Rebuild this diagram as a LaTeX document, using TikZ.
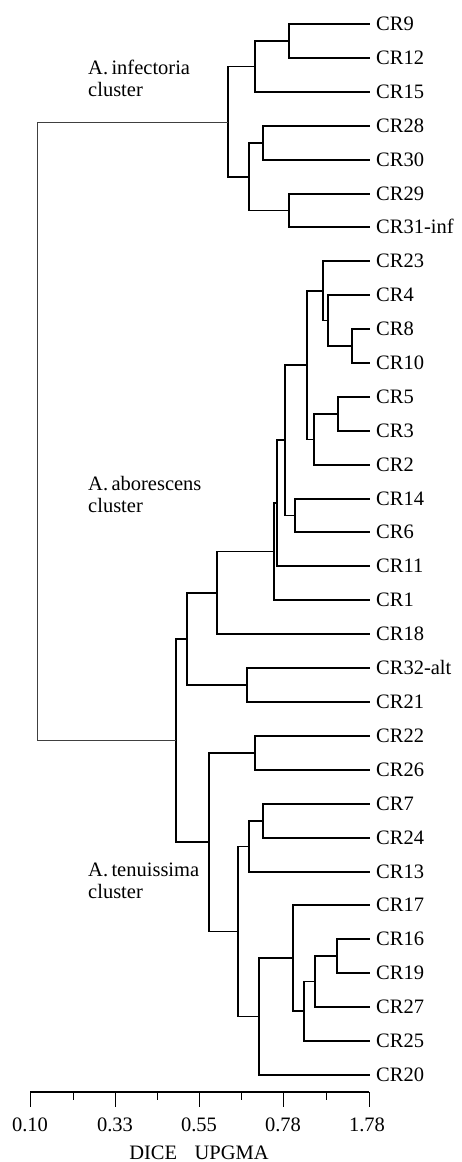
\documentclass[tikz,border=0pt]{standalone}
\usepackage{fontspec}
\setmainfont{Liberation Serif}
\begin{document}
\begin{tikzpicture}[x=1pt,y=-1pt,
  every node/.style={font=\fontsize{20.5}{22}\selectfont},
  leaf/.style={anchor=west,inner xsep=6pt,inner ysep=0pt,text height=12pt,text depth=0pt},
  branch/.style={line width=1.1pt},
  rootbranch/.style={line width=0.8pt,draw=black!75},
  clusterlabel/.style={anchor=base west,align=left,inner sep=0pt},
  ticklabel/.style={anchor=base,inner sep=0pt}]
\useasboundingbox (0,0) rectangle (461,1162);

% ---------- leaves ----------
\foreach \name/\lab/\y in {
  cr9/CR9/24, cr12/CR12/58, cr15/CR15/92, cr28/CR28/126, cr30/CR30/160,
  cr29/CR29/194, cr31/CR31-inf/227, cr23/CR23/261, cr4/CR4/295, cr8/CR8/329,
  cr10/CR10/363, cr5/CR5/397, cr3/CR3/431, cr2/CR2/465, cr14/CR14/499,
  cr6/CR6/532, cr11/CR11/566, cr1/CR1/600, cr18/CR18/634, cr32/CR32-alt/668,
  cr21/CR21/702, cr22/CR22/736, cr26/CR26/770, cr7/CR7/804, cr24/CR24/838,
  cr13/CR13/872, cr17/CR17/905, cr16/CR16/939, cr19/CR19/973, cr27/CR27/1007,
  cr25/CR25/1041, cr20/CR20/1075}
  \node[leaf] (\name) at (370,\y) {\lab};

% ---------- internal nodes ----------
% A. infectoria
\coordinate (i1) at (289,41);
\coordinate (i2) at (255,66.5);
\coordinate (i3) at (263,143);
\coordinate (i4) at (289,210.5);
\coordinate (i5) at (249,177);
\coordinate (i6) at (228,122);
% A. aborescens
\coordinate (a1) at (352,346);
\coordinate (a2) at (328,320.5);
\coordinate (a3) at (323,291);
\coordinate (a4) at (338,414);
\coordinate (a5) at (314,439.5);
\coordinate (a6) at (307,365);
\coordinate (a7) at (295,515.5);
\coordinate (a8) at (285,440);
\coordinate (a9) at (277,503);
\coordinate (a10) at (274,551.5);
\coordinate (a11) at (217,593);
\coordinate (a12) at (247,685);
\coordinate (a13) at (187,639);
% A. tenuissima
\coordinate (t1) at (255,753);
\coordinate (t2) at (263,821);
\coordinate (t3) at (249,846.5);
\coordinate (t4) at (337,956);
\coordinate (t5) at (315,981.5);
\coordinate (t6) at (304,1011);
\coordinate (t7) at (293,958);
\coordinate (t8) at (259,1016.5);
\coordinate (t9) at (238,931.5);
\coordinate (t10) at (209,842);
% joins
\coordinate (r2) at (176,740.5);
\coordinate (root) at (37,431);

% ---------- branches ----------
\draw[branch] (i1) |- (cr9.west) (i1) |- (cr12.west);
\draw[branch] (i2) |- (i1) (i2) |- (cr15.west);
\draw[branch] (i3) |- (cr28.west) (i3) |- (cr30.west);
\draw[branch] (i4) |- (cr29.west) (i4) |- (cr31.west);
\draw[branch] (i5) |- (i3) (i5) |- (i4);
\draw[branch] (i6) |- (i2) (i6) |- (i5);

\draw[branch] (a1) |- (cr8.west) (a1) |- (cr10.west);
\draw[branch] (a2) |- (cr4.west) (a2) |- (a1);
\draw[branch] (a3) |- (cr23.west) (a3) |- (a2);
\draw[branch] (a4) |- (cr5.west) (a4) |- (cr3.west);
\draw[branch] (a5) |- (a4) (a5) |- (cr2.west);
\draw[branch] (a6) |- (a3) (a6) |- (a5);
\draw[branch] (a7) |- (cr14.west) (a7) |- (cr6.west);
\draw[branch] (a8) |- (a6) (a8) |- (a7);
\draw[branch] (a9) |- (a8) (a9) |- (cr11.west);
\draw[branch] (a10) |- (a9) (a10) |- (cr1.west);
\draw[branch] (a11) |- (a10) (a11) |- (cr18.west);
\draw[branch] (a12) |- (cr32.west) (a12) |- (cr21.west);
\draw[branch] (a13) |- (a11) (a13) |- (a12);

\draw[branch] (t1) |- (cr22.west) (t1) |- (cr26.west);
\draw[branch] (t2) |- (cr7.west) (t2) |- (cr24.west);
\draw[branch] (t3) |- (t2) (t3) |- (cr13.west);
\draw[branch] (t4) |- (cr16.west) (t4) |- (cr19.west);
\draw[branch] (t5) |- (t4) (t5) |- (cr27.west);
\draw[branch] (t6) |- (t5) (t6) |- (cr25.west);
\draw[branch] (t7) |- (cr17.west) (t7) |- (t6);
\draw[branch] (t8) |- (t7) (t8) |- (cr20.west);
\draw[branch] (t9) |- (t3) (t9) |- (t8);
\draw[branch] (t10) |- (t1) (t10) |- (t9);

\draw[branch] (r2) |- (a13) (r2) |- (t10);
\draw[rootbranch] (root) |- (i6) (root) |- (r2);

% ---------- cluster names (base = last line) ----------
\node[clusterlabel] (labinf) at (88,96) {A.\,infectoria\\cluster};
\node[clusterlabel] (lababo) at (88,512) {A.\,aborescens\\cluster};
\node[clusterlabel] (labten) at (88,898) {A.\,tenuissima\\cluster};

% ---------- distance scale ----------
\draw[line width=1.1pt] (30,1092) -- (369,1092);
\foreach \x in {30,115,199,283,369}
  \draw[line width=1pt] (\x,1092) -- (\x,1107);
\foreach \x in {73,157,241,326}
  \draw[line width=1pt] (\x,1092) -- (\x,1100);
\node[ticklabel] (t010) at (30,1131) {0.10};
\node[ticklabel] (t033) at (115,1131) {0.33};
\node[ticklabel] (t055) at (199,1131) {0.55};
\node[ticklabel] (t078) at (283,1131) {0.78};
\node[ticklabel] (t178) at (367,1131) {1.78};
\node[ticklabel] (scalename) at (199,1159) {DICE\hspace{0.85em}UPGMA};
\end{tikzpicture}
\end{document}
